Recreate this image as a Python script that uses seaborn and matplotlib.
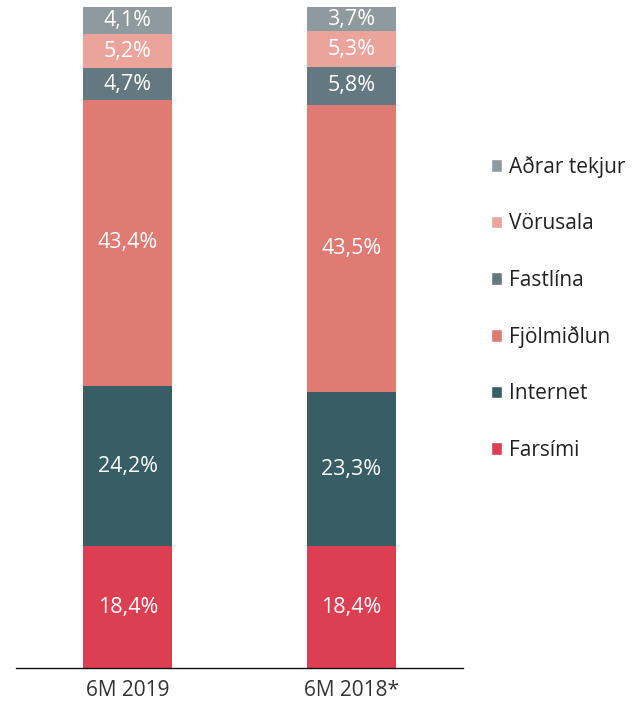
import matplotlib
matplotlib.use("Agg")
import matplotlib.pyplot as plt
from matplotlib.patches import Patch
import seaborn as sb
import pandas as pd
import numpy as np

PERIODS = ["6M 2019", "6M 2018*"]
SEGMENTS = ["Farsími", "Internet", "Fjölmiðlun", "Fastlína", "Vörusala", "Aðrar tekjur"]
FARSIMI = [18.4, 18.4]
INTERNET = [24.2, 23.3]
FJOLMIDLUN = [43.4, 43.5]
FASTLINA = [4.7, 5.8]
VORUSALA = [5.2, 5.3]
ADRAR = [4.1, 3.7]
COLORS = ["#DC3E52", "#365E64", "#E07B74", "#637880", "#EBA49C", "#8E9A9D"]

def build_df():
    vals = [FARSIMI, INTERNET, FJOLMIDLUN, FASTLINA, VORUSALA, ADRAR]
    rows = []
    for seg, v in zip(SEGMENTS, vals):
        for p, x in zip(PERIODS, v):
            rows.append({"period": p, "segment": seg, "value": x})
    df = pd.DataFrame(rows)
    df["top"] = df.groupby("period")["value"].cumsum()
    df["bottom"] = df["top"] - df["value"]
    return df

df = build_df()
sb.set_style("white")
plt.rcParams["font.family"] = ["Open Sans", "DejaVu Sans"]

fig = plt.figure(figsize=(6.38, 7.03), dpi=100)
ax = fig.add_axes([0.025, 0.0498, 0.701, 0.9402])

# stacked: draw cumulative heights from the top layer down
for seg, col in reversed(list(zip(SEGMENTS, COLORS))):
    sub = df[df["segment"] == seg]
    sb.barplot(data=sub, x="period", y="top", color=col, width=0.40,
               saturation=1, ax=ax, order=PERIODS, linewidth=0)

for _, r in df.iterrows():
    xi = PERIODS.index(r["period"])
    ax.text(xi, (r["top"] + r["bottom"]) / 2, f"{r['value']:.1f}%".replace(".", ","),
            ha="center", va="center", color="white", fontsize=15.5)

ax.set_xlim(-0.5, 1.5)
ax.set_ylim(0, 100)
ax.set_xlabel("")
ax.set_ylabel("")
ax.set_yticks([])
ax.tick_params(axis="x", length=0, labelsize=15, labelcolor="#333333", pad=9)
for s in ["top", "left", "right"]:
    ax.spines[s].set_visible(False)
ax.spines["bottom"].set_color("#111111")
ax.spines["bottom"].set_linewidth(1)

handles = [Patch(facecolor=c, label=s) for s, c in zip(SEGMENTS, COLORS)][::-1]
fig.legend(handles=handles, loc="upper left", bbox_to_anchor=(0.74, 0.805),
           frameon=False, handlelength=0.55, handleheight=0.55,
           handletextpad=0.3, labelspacing=1.70, labelcolor="#222222",
           prop={"size": 15})

fig.savefig("out.png", dpi=100)
